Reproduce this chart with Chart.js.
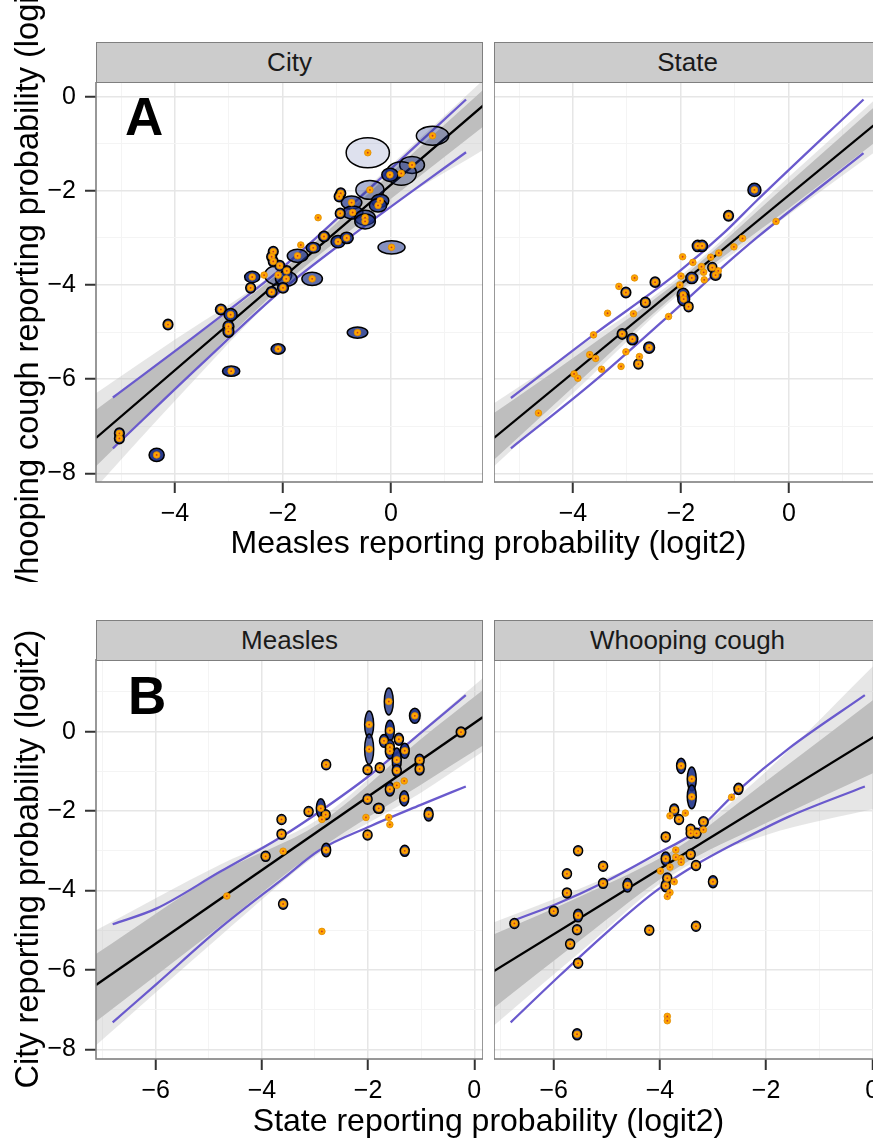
<!DOCTYPE html>
<html>
<head>
<meta charset="utf-8">
<script src="https://cdn.jsdelivr.net/npm/chart.js@4"></script>
<style>
  html, body { margin: 0; padding: 0; background: #fff; overflow: hidden; }
  body { width: 873px; height: 1139px; position: relative; font-family: "Liberation Sans", Arial, sans-serif; color: #000; }
  canvas { position: absolute; }
  .strip { position: absolute; box-sizing: border-box; background: #cccccc; border: 1.5px solid #7f7f7f;
           font-size: 26px; color: #1a1a1a; display: flex; align-items: center; justify-content: center; }
  .tag { position: absolute; font-weight: bold; font-size: 53px; line-height: 53px; }
  .xtitle { position: absolute; width: 873px; left: 52px; text-align: center; font-size: 32px; line-height: 32px; white-space: nowrap; }
  .yclip { position: absolute; left: 0; width: 96px; overflow: hidden; }
  .ytitle { position: absolute; width: 700px; height: 40px; line-height: 40px; font-size: 32.5px; text-align: center;
            white-space: nowrap; transform: rotate(-90deg); }
</style>
</head>
<body>
<script>
// Reporting probabilities on the logit2 scale.
// Each row: [x, y, half-width of posterior ellipse in x, half-height in y] (0 = no ellipse drawn)
const cityPoints = [
  [0.77, -0.83, 0.30, 0.20], [-0.43, -1.19, 0.40, 0.32], [0.39, -1.45, 0.23, 0.18], [0.19, -1.63, 0.28, 0.25],
  [-0.02, -1.66, 0.15, 0.14], [-0.39, -1.98, 0.26, 0.20], [-0.93, -2.05, 0.09, 0.11], [-0.96, -2.12, 0.09, 0.11],
  [-0.73, -2.25, 0.19, 0.14], [-0.20, -2.21, 0.16, 0.14], [-0.24, -2.31, 0.16, 0.14], [-0.71, -2.46, 0.19, 0.14],
  [-0.94, -2.48, 0.09, 0.11], [-0.48, -2.57, 0.19, 0.16], [-0.48, -2.65, 0.19, 0.16], [-1.35, -2.57, 0, 0],
  [-1.24, -2.97, 0.10, 0.11], [-0.98, -3.08, 0.13, 0.13], [-0.82, -3.00, 0.12, 0.12], [0.01, -3.20, 0.25, 0.14],
  [-1.67, -3.15, 0, 0], [-1.44, -3.21, 0.13, 0.11], [-1.73, -3.38, 0.19, 0.14], [-2.18, -3.29, 0.09, 0.11],
  [-2.21, -3.40, 0.09, 0.11], [-2.18, -3.50, 0.09, 0.11], [-2.06, -3.59, 0.09, 0.11], [-1.93, -3.70, 0.09, 0.11],
  [-2.09, -3.79, 0.25, 0.21], [-1.94, -3.87, 0.20, 0.16], [-2.35, -3.79, 0, 0], [-2.57, -3.83, 0.14, 0.12],
  [-1.46, -3.87, 0.19, 0.14], [-2.00, -4.06, 0.10, 0.11], [-2.21, -4.15, 0.10, 0.11], [-2.60, -4.06, 0.09, 0.11],
  [-3.15, -4.52, 0.10, 0.11], [-2.97, -4.63, 0.12, 0.13], [-3.01, -4.88, 0.10, 0.12], [-3.01, -4.99, 0.10, 0.12],
  [-4.13, -4.84, 0.09, 0.11], [-0.62, -5.01, 0.19, 0.12], [-2.09, -5.36, 0.13, 0.11], [-2.96, -5.83, 0.16, 0.11],
  [-5.03, -7.15, 0.09, 0.11], [-5.03, -7.26, 0.09, 0.11], [-4.34, -7.61, 0.14, 0.14]
];
const statePoints = [
  [-0.64, -1.98, 0.12, 0.14], [-1.12, -2.53, 0.09, 0.11], [-0.24, -2.65, 0, 0], [-0.86, -3.01, 0, 0],
  [-1.02, -3.19, 0, 0], [-1.69, -3.17, 0.10, 0.12], [-1.61, -3.17, 0.10, 0.12], [-1.30, -3.32, 0, 0],
  [-1.45, -3.41, 0, 0], [-1.97, -3.40, 0, 0], [-1.78, -3.52, 0, 0], [-1.62, -3.61, 0, 0],
  [-1.42, -3.63, 0.08, 0.09], [-1.31, -3.70, 0, 0], [-1.58, -3.73, 0, 0], [-1.36, -3.79, 0.10, 0.11],
  [-1.57, -3.89, 0, 0], [-1.80, -3.85, 0.11, 0.12], [-2.00, -3.81, 0, 0], [-2.02, -4.00, 0, 0],
  [-2.86, -3.85, 0, 0], [-2.48, -3.94, 0.09, 0.11], [-3.15, -4.03, 0, 0], [-3.02, -4.16, 0.09, 0.11],
  [-1.96, -4.21, 0.11, 0.14], [-1.95, -4.30, 0.11, 0.14], [-1.86, -4.46, 0.08, 0.10], [-2.66, -4.37, 0.09, 0.11],
  [-3.36, -4.60, 0, 0], [-2.88, -4.61, 0, 0], [-2.23, -4.67, 0, 0], [-3.62, -5.06, 0, 0],
  [-3.09, -5.04, 0.09, 0.11], [-2.90, -5.15, 0.10, 0.12], [-2.59, -5.33, 0.10, 0.12], [-3.69, -5.48, 0, 0],
  [-3.58, -5.56, 0, 0], [-3.02, -5.42, 0, 0], [-2.77, -5.52, 0, 0], [-2.79, -5.68, 0.07, 0.08],
  [-3.47, -5.79, 0, 0], [-3.11, -5.73, 0, 0], [-3.98, -5.89, 0, 0], [-3.91, -5.98, 0, 0],
  [-4.64, -6.72, 0, 0]
];
const measlesPoints = [
  [-0.25, -0.01, 0.09, 0.12], [-1.12, 0.40, 0.10, 0.19], [-1.61, 0.76, 0.06, 0.34], [-1.98, 0.18, 0.07, 0.34],
  [-1.98, -0.44, 0.07, 0.38], [-2.01, -0.96, 0.08, 0.11], [-1.59, 0.03, 0.07, 0.26], [-1.70, -0.23, 0.08, 0.16],
  [-1.42, -0.19, 0.08, 0.15], [-1.59, -0.39, 0.07, 0.19], [-1.59, -0.49, 0.07, 0.19], [-1.31, -0.48, 0.07, 0.19],
  [-1.46, -0.71, 0.06, 0.30], [-1.46, -0.98, 0.06, 0.15], [-1.78, -0.91, 0.08, 0.11], [-1.03, -0.72, 0.07, 0.15],
  [-1.03, -0.94, 0.07, 0.15], [-2.79, -0.83, 0.07, 0.13], [-1.32, -1.24, 0, 0], [-1.46, -1.35, 0, 0],
  [-1.59, -1.45, 0.08, 0.17], [-2.01, -1.70, 0.07, 0.13], [-1.32, -1.68, 0.07, 0.19], [-1.80, -1.93, 0.10, 0.09],
  [-0.86, -2.08, 0.07, 0.17], [-1.61, -2.16, 0, 0], [-1.59, -2.34, 0, 0], [-2.04, -2.16, 0, 0],
  [-2.01, -2.60, 0.07, 0.10], [-2.89, -1.93, 0.06, 0.24], [-2.80, -2.09, 0.08, 0.12], [-2.87, -2.21, 0, 0],
  [-3.12, -2.01, 0.07, 0.12], [-3.63, -2.21, 0.07, 0.12], [-3.63, -2.58, 0.07, 0.12], [-3.60, -3.01, 0, 0],
  [-2.79, -2.98, 0.07, 0.17], [-1.31, -3.00, 0.07, 0.14], [-3.93, -3.14, 0.07, 0.10], [-4.66, -4.14, 0, 0],
  [-3.60, -4.34, 0.07, 0.13], [-2.87, -5.03, 0, 0]
];
const whoopingPoints = [
  [-6.74, -4.83, 0.08, 0.10], [-6.00, -4.52, 0.08, 0.10], [-5.75, -3.58, 0.07, 0.09], [-5.75, -4.06, 0.08, 0.10],
  [-5.54, -3.00, 0.07, 0.11], [-5.54, -4.63, 0.07, 0.16], [-5.56, -4.99, 0.07, 0.10], [-5.69, -5.35, 0.08, 0.09],
  [-5.54, -5.83, 0.07, 0.12], [-5.56, -7.62, 0.07, 0.14], [-5.07, -3.39, 0.07, 0.10], [-5.07, -3.82, 0.07, 0.12],
  [-4.61, -3.87, 0.07, 0.17], [-4.20, -5.00, 0.07, 0.10], [-3.99, -3.51, 0, 0], [-3.89, -2.65, 0.07, 0.10],
  [-3.89, -3.20, 0.07, 0.17], [-3.81, -3.41, 0, 0], [-3.86, -3.69, 0.08, 0.13], [-3.89, -3.88, 0.07, 0.15],
  [-3.81, -4.05, 0, 0], [-3.86, -4.15, 0, 0], [-3.73, -3.78, 0, 0], [-3.86, -7.17, 0, 0],
  [-3.86, -7.28, 0, 0], [-3.70, -2.98, 0, 0], [-3.70, -3.16, 0, 0], [-3.60, -3.20, 0, 0],
  [-3.60, -3.29, 0, 0], [-3.42, -3.09, 0.07, 0.10], [-3.32, -3.37, 0.08, 0.12], [-3.32, -4.90, 0.08, 0.12],
  [-3.00, -3.78, 0.07, 0.15], [-3.60, -0.86, 0.05, 0.19], [-3.40, -1.19, 0.05, 0.30], [-3.40, -1.64, 0.05, 0.30],
  [-3.73, -1.97, 0.05, 0.15], [-3.81, -2.12, 0, 0], [-3.52, -2.05, 0, 0], [-3.64, -2.21, 0.08, 0.10],
  [-3.42, -2.46, 0.07, 0.10], [-3.42, -2.56, 0.07, 0.10], [-3.31, -2.56, 0.08, 0.12], [-3.18, -2.27, 0.09, 0.13],
  [-3.18, -2.47, 0, 0], [-2.65, -1.65, 0, 0], [-2.52, -1.44, 0.08, 0.14]
];

// posterior median regression lines
const cityFitX = [-5.463, 1.704], cityFitY = [-7.25, -0.19];
const stateFitX = [-5.463, 1.704], stateFitY = [-7.25, -0.48];
const measlesFitX = [-7.124, 0.164], measlesFitY = [-6.38, 0.37];
const whoopingFitX = [-7.124, 0.164], whoopingFitY = [-6.03, -0.02];

// 95% credible band for the regression line
const cityCiX = [-5.15, -3.5, -2, -0.5, 1.39];
const cityCiUpper = [-6.39, -4.97, -3.62, -2.06, -0.06];
const cityCiLower = [-7.47, -5.67, -4.09, -2.76, -1.18];
const stateCiX = [-5.15, -3.62, -2.07, -1.21, -0.59, 1.38];
const stateCiUpper = [-6.40, -5.06, -3.75, -2.90, -2.20, -0.06];
const stateCiLower = [-7.47, -6.06, -4.49, -3.60, -2.99, -1.20];
const measlesCiX = [-6.81, -5.98, -4.79, -3.6, -2.91, -1.96, -1.02, -0.16];
const measlesCiUpper = [-4.85, -4.45, -3.53, -2.62, -2.01, -1.09, -0.04, 0.92];
const measlesCiLower = [-7.32, -6.35, -4.95, -3.70, -2.98, -2.38, -1.85, -1.38];
const whoopingCiX = [-6.81, -5.98, -5.03, -4.09, -3.33, -2.52, -1.57, -0.14];
const whoopingCiUpper = [-4.78, -4.36, -3.78, -3.10, -2.52, -1.47, -0.42, 0.92];
const whoopingCiLower = [-7.32, -6.26, -5.09, -4.03, -3.36, -2.77, -2.14, -1.38];

// envelope of the posterior draws of the line (dense core and faint outer fan)
const cityBandX = [-5.463, -4, -2, 0, 1.704];
const cityCoreUpper = [-6.65, -5.41, -3.68, -1.62, 0.14];
const cityCoreLower = [-7.85, -6.21, -4.01, -2.17, -0.64];
const cityFanUpper = [-6.30, -5.16, -3.60, -1.45, 0.35];
const cityFanLower = [-8.30, -6.46, -4.09, -2.32, -1.13];
const stateBandX = [-5.463, -4, -2, 0, 1.704];
const stateCoreUpper = [-6.72, -5.55, -3.86, -1.83, -0.09];
const stateCoreLower = [-7.71, -6.17, -4.10, -2.37, -0.87];
const stateFanUpper = [-6.51, -5.40, -3.80, -1.70, 0.05];
const stateFanLower = [-7.85, -6.30, -4.16, -2.50, -1.08];
const measlesBandX = [-7.124, -4.79, -2.91, -1.02, 0.164];
const measlesCoreUpper = [-5.6, -3.55, -2.30, -0.2, 1.05];
const measlesCoreLower = [-7.3, -4.90, -2.95, -1.35, -0.35];
const measlesFanUpper = [-5.0, -3.35, -2.18, 0.0, 1.35];
const measlesFanLower = [-7.9, -5.15, -3.05, -1.55, -0.5];
const whoopingBandX = [-7.124, -5.5, -3.7, -2.0, 0.164];
const whoopingCoreUpper = [-5.1, -4.15, -2.95, -1.25, 0.95];
const whoopingCoreLower = [-6.95, -5.25, -3.45, -2.3, -0.95];
const whoopingFanUpper = [-4.8, -3.95, -2.85, -1.0, 1.85];
const whoopingFanLower = [-7.4, -5.55, -3.55, -2.6, -1.9];

// labelled ticks
const topXTicks = [-4, -2, 0];
const topYTicks = [-8, -6, -4, -2, 0];
const bottomXTicks = [-6, -4, -2, 0];
const bottomYTicks = [-8, -6, -4, -2, 0];

const facetTitles = ['City', 'State', 'Measles', 'Whooping cough'];
const xTitles = ['Measles reporting probability (logit2)', 'State reporting probability (logit2)'];
const yTitles = ['Whooping cough reporting probability (logit2)', 'City reporting probability (logit2)'];
const panelTags = ['A', 'B'];

const FONT = '"Liberation Sans", Arial, sans-serif';
const fmt = v => (v < 0 ? '\u2212' : '') + Math.abs(v);
const pairs = (xs, ys) => xs.map((v, i) => ({x: v, y: ys[i]}));

// posterior ellipses around each estimate plus the panel frame
const ellipsePlugin = {
  id: 'ellipses',
  beforeDatasetDraw(chart, args) {
    const ds = chart.data.datasets[args.index];
    if (!ds.radii) return;
    const {ctx, chartArea: a, scales: {x, y}} = chart;
    ctx.save();
    ctx.beginPath();
    ctx.rect(a.left, a.top, a.width, a.height);
    ctx.clip();
    ds.data.forEach((p, i) => {
      const [rx, ry] = ds.radii[i];
      if (!rx) return;
      const cx = x.getPixelForValue(p.x), cy = y.getPixelForValue(p.y);
      const w = Math.max(x.getPixelForValue(p.x + rx) - cx, 4.5);
      const h = Math.max(cy - y.getPixelForValue(p.y + ry), 5);
      // sample cloud: dense in small ellipses, sparse in wide ones
      const alpha = Math.min(0.95, 150 / (Math.PI * w * h));
      ctx.beginPath();
      ctx.ellipse(cx, cy, w, h, 0, 0, Math.PI * 2);
      ctx.fillStyle = 'rgba(28,48,135,' + alpha.toFixed(3) + ')';
      ctx.fill();
      ctx.lineWidth = 1.5;
      ctx.strokeStyle = '#000';
      ctx.stroke();
    });
    ctx.restore();
  },
  afterDraw(chart) {
    const {ctx, chartArea: a} = chart;
    ctx.save();
    ctx.strokeStyle = '#7f7f7f';
    ctx.lineWidth = 1.6;
    ctx.strokeRect(a.left, a.top, a.width, a.height);
    ctx.restore();
  }
};

function band(xs, ys, fill, order) {
  return {type: 'line', data: pairs(xs, ys), fill: fill ? '+1' : false, backgroundColor: fill || 'transparent',
          borderColor: 'transparent', borderWidth: 1, pointRadius: 0, cubicInterpolationMode: 'monotone', clip: 0, order};
}

function line(xs, ys, color, order) {
  return {type: 'line', data: pairs(xs, ys), borderColor: color, borderWidth: 2.3, pointRadius: 0,
          fill: false, cubicInterpolationMode: 'monotone', clip: 0, order};
}

function makePanel(p) {
  const canvas = document.createElement('canvas');
  const yW = p.yTicks ? 76 : 0;
  const xH = 60;
  canvas.width = 387 + yW;
  canvas.height = 400 + xH;
  canvas.style.left = (p.left - yW) + 'px';
  canvas.style.top = p.top + 'px';
  document.body.appendChild(canvas);

  const pts = p.points.map(r => ({x: r[0], y: r[1]}));
  const major = (list) => c => c.tick && list.includes(c.tick.value);

  const xMajor = major(p.xTicks);
  const yMajor = major(p.yTicks || bottomYTicks.concat(topYTicks));

  new Chart(canvas, {
    type: 'scatter',
    data: {
      datasets: [
        band(p.bandX, p.fanUp, 'rgba(190,190,190,0.38)', 7),
        band(p.bandX, p.fanLo, null, 7),
        band(p.bandX, p.coreUp, '#bebebe', 6),
        band(p.bandX, p.coreLo, null, 6),
        line(p.fitX, p.fitY, '#000000', 5),
        line(p.ciX, p.ciUp, '#6a5acd', 4),
        line(p.ciX, p.ciLo, '#6a5acd', 4),
        {type: 'scatter', data: pts, radii: p.points.map(r => [r[2], r[3]]), pointRadius: 3.3,
         backgroundColor: '#ffa500', borderColor: '#e08c00', borderWidth: 0.8, clip: 0, order: 2},
        {type: 'scatter', data: pts, pointRadius: 0.9, backgroundColor: '#c0392b', borderWidth: 0, clip: 0, order: 1}
      ]
    },
    options: {
      responsive: false,
      maintainAspectRatio: false,
      devicePixelRatio: 1,
      animation: false,
      events: [],
      layout: {padding: 0, autoPadding: false},
      plugins: {legend: {display: false}, tooltip: {enabled: false}},
      scales: {
        x: {
          type: 'linear', position: 'bottom', min: p.xMin, max: p.xMax,
          border: {display: false},
          grid: {
            color: c => xMajor(c) ? '#e6e6e6' : '#f4f4f4',
            lineWidth: c => xMajor(c) ? 1.5 : 1,
            tickColor: c => xMajor(c) ? '#333333' : 'rgba(0,0,0,0)',
            tickWidth: 2, tickLength: 11
          },
          ticks: {
            stepSize: 1, includeBounds: false, autoSkip: false, maxRotation: 0, minRotation: 0,
            padding: 6, color: '#000', font: {family: FONT, size: 25},
            callback: v => p.xTicks.includes(v) ? fmt(v) : ''
          },
          afterFit: s => { s.height = xH; s.paddingLeft = 0; s.paddingRight = 0; }
        },
        y: {
          type: 'linear', position: 'left', min: p.yMin, max: p.yMax,
          border: {display: false},
          grid: {
            color: c => yMajor(c) ? '#e6e6e6' : '#f4f4f4',
            lineWidth: c => yMajor(c) ? 1.5 : 1,
            tickColor: c => yMajor(c) ? '#333333' : 'rgba(0,0,0,0)',
            tickWidth: 2, tickLength: 11, drawTicks: !!p.yTicks
          },
          ticks: {
            display: !!p.yTicks,
            stepSize: 1, includeBounds: false, autoSkip: false,
            padding: 9, color: '#000', font: {family: FONT, size: 25},
            callback: v => p.yTicks && p.yTicks.includes(v) ? fmt(v) : ''
          },
          afterFit: s => { s.width = yW; s.paddingTop = 0; s.paddingBottom = 0; }
        }
      }
    },
    plugins: [ellipsePlugin]
  });
}

const topRange = {xMin: -5.463, xMax: 1.704, yMin: -8.185, yMax: 0.312, xTicks: topXTicks};
const bottomRange = {xMin: -7.124, xMax: 0.164, yMin: -8.244, yMax: 1.831, xTicks: bottomXTicks};

makePanel(Object.assign({left: 96, top: 82, yTicks: topYTicks, points: cityPoints,
  fitX: cityFitX, fitY: cityFitY, ciX: cityCiX, ciUp: cityCiUpper, ciLo: cityCiLower,
  bandX: cityBandX, coreUp: cityCoreUpper, coreLo: cityCoreLower, fanUp: cityFanUpper, fanLo: cityFanLower}, topRange));
makePanel(Object.assign({left: 494, top: 82, yTicks: null, points: statePoints,
  fitX: stateFitX, fitY: stateFitY, ciX: stateCiX, ciUp: stateCiUpper, ciLo: stateCiLower,
  bandX: stateBandX, coreUp: stateCoreUpper, coreLo: stateCoreLower, fanUp: stateFanUpper, fanLo: stateFanLower}, topRange));
makePanel(Object.assign({left: 96, top: 659, yTicks: bottomYTicks, points: measlesPoints,
  fitX: measlesFitX, fitY: measlesFitY, ciX: measlesCiX, ciUp: measlesCiUpper, ciLo: measlesCiLower,
  bandX: measlesBandX, coreUp: measlesCoreUpper, coreLo: measlesCoreLower, fanUp: measlesFanUpper, fanLo: measlesFanLower}, bottomRange));
makePanel(Object.assign({left: 494, top: 659, yTicks: null, points: whoopingPoints,
  fitX: whoopingFitX, fitY: whoopingFitY, ciX: whoopingCiX, ciUp: whoopingCiUpper, ciLo: whoopingCiLower,
  bandX: whoopingBandX, coreUp: whoopingCoreUpper, coreLo: whoopingCoreLower, fanUp: whoopingFanUpper, fanLo: whoopingFanLower}, bottomRange));

// facet strips, axis titles and panel tags
function addDiv(cls, text, css) {
  const d = document.createElement('div');
  d.className = cls;
  d.textContent = text;
  Object.assign(d.style, css);
  document.body.appendChild(d);
  return d;
}
[[96, 42], [494, 42], [96, 620], [494, 620]].forEach(([l, t], i) =>
  addDiv('strip', facetTitles[i], {left: l + 'px', top: t + 'px', width: '387px', height: '41px'}));

addDiv('xtitle', xTitles[0], {top: '526px'});
addDiv('xtitle', xTitles[1], {top: '1104px'});

[[0, 582, 282], [585, 554, 859]].forEach(([top, h, cy], i) => {
  const clip = addDiv('yclip', '', {top: top + 'px', height: h + 'px'});
  const t = document.createElement('div');
  t.className = 'ytitle';
  t.textContent = yTitles[i];
  t.style.left = (27 - 350) + 'px';
  t.style.top = (cy - top - 20) + 'px';
  clip.appendChild(t);
});

addDiv('tag', panelTags[0], {left: '125px', top: '90px'});
addDiv('tag', panelTags[1], {left: '128px', top: '669px'});
</script>
</body>
</html>
